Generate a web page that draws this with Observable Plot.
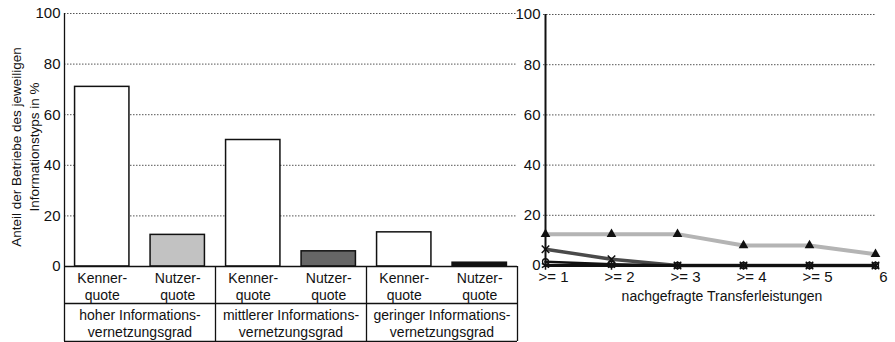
<!DOCTYPE html>
<html><head><meta charset="utf-8">
<script src="https://cdn.jsdelivr.net/npm/d3@7"></script>
<script src="https://cdn.jsdelivr.net/npm/@observablehq/plot@0.6"></script>
<style>
body{margin:0;background:#fff}
#wrap{position:relative;width:895px;height:342px;background:#fff}
#wrap svg{position:absolute;top:0;overflow:visible}
</style>
</head><body><div id="wrap"></div>
<script>
// ---- data: left chart ----
const groupLabels = ["hoher Informations-\nvernetzungsgrad", "mittlerer Informations-\nvernetzungsgrad", "geringer Informations-\nvernetzungsgrad"];
const quoteLabels = ["Kenner-\nquote", "Nutzer-\nquote"];
const kennerValues = [71, 50, 13.5];
const nutzerValues = [12.5, 6, 1.5];
const yTicks = [0, 20, 40, 60, 80, 100];
const yTitle = "Anteil der Betriebe des jeweiligen\nInformationstyps in %";
// ---- data: right chart ----
const transferLabels = [">= 1", ">= 2", ">= 3", ">= 4", ">= 5", "6"];
const seriesTriangle = [12.5, 12.5, 12.5, 8, 8, 4.5];
const seriesCross = [6.5, 2.5, 0, 0, 0, 0];
const seriesCircle = [1.5, 0.5, 0, 0, 0, 0];
const seriesPlus = [0, 0, 0, 0, 0, 0];
const xTitle = "nachgefragte Transferleistungen";

const font = "'Liberation Sans', Arial, Helvetica, sans-serif";
const wrap = document.getElementById("wrap");

// ---- left chart ----
const bars = [];
groupLabels.forEach((g, gi) => {
  [kennerValues[gi], nutzerValues[gi]].forEach((v, qi) =>
    bars.push({i: gi * 2 + qi, quote: quoteLabels[qi], value: v, key: qi === 0 ? "K" : "N" + gi}));
});
const groups = groupLabels.map((g, gi) => ({x: gi * 2 + 0.5, label: g}));
const dividers = [-0.5, 1.5, 3.5, 5.5];
const H = 342, mT = 13, mB = 76;
const px = (H - mT - mB) / 100;
const tableBottom = -(mB - 1) / px;

const left = Plot.plot({
  width: 517, height: H, marginLeft: 64, marginRight: 0, marginTop: mT, marginBottom: mB,
  style: {fontFamily: font, fontSize: "15px", color: "#111", background: "transparent", overflow: "visible"},
  x: {domain: [-0.5, 5.5], axis: null},
  y: {domain: [0, 100], ticks: yTicks, tickSize: 0, tickPadding: 4, label: null},
  color: {domain: ["K", "N0", "N1", "N2"], range: ["#ffffff", "#c2c2c2", "#666666", "#111111"]},
  marks: [
    Plot.ruleY(yTicks.filter(t => t > 0), {stroke: "#555", strokeDasharray: "1.5 1.5", strokeWidth: 1}),
    Plot.rect(bars, {x1: d => d.i - 0.36, x2: d => d.i + 0.36, y1: 0, y2: "value", fill: "key", stroke: "#111", strokeWidth: 1.5}),
    Plot.ruleY([0], {stroke: "#111", strokeWidth: 1.3}),
    Plot.ruleY([0], {stroke: "#111", strokeWidth: 1.3, dy: 37}),
    Plot.ruleY([0], {stroke: "#111", strokeWidth: 1.3, dy: 75}),
    Plot.ruleX(dividers, {y1: d => d === -0.5 ? 100 : 0, y2: tableBottom, stroke: "#111", strokeWidth: 1.3}),
    Plot.text(bars, {x: "i", y: 0, text: "quote", lineAnchor: "top", dy: 4, lineHeight: 1.22, fontSize: 14, fill: "#111"}),
    Plot.text(groups, {x: "x", y: 0, text: "label", lineAnchor: "top", dy: 41, lineHeight: 1.22, fontSize: 14, fill: "#111"}),
    Plot.text([yTitle], {text: d => d, frameAnchor: "left", textAnchor: "middle", rotate: -90, dx: -40, dy: 7, lineHeight: 1.3, fontSize: 13.5, fill: "#111"})
  ]
});
left.style.left = "0px";
wrap.appendChild(left);

// ---- right chart ----
const pts = vals => vals.map((v, i) => ({x: transferLabels[i], y: v}));
const right = Plot.plot({
  width: 378, height: H, marginLeft: 26, marginRight: 19, marginTop: 14, marginBottom: 77,
  style: {fontFamily: font, fontSize: "15px", color: "#111", background: "transparent", overflow: "visible"},
  x: {type: "point", domain: transferLabels, padding: 0, axis: null},
  y: {domain: [0, 100], ticks: yTicks, tickSize: 0, tickPadding: 3, label: null},
  marks: [
    Plot.ruleY(yTicks.filter(t => t > 0), {stroke: "#555", strokeDasharray: "1.5 1.5", strokeWidth: 1}),
    Plot.line(pts(seriesTriangle), {x: "x", y: "y", stroke: "#b4b4b4", strokeWidth: 4}),
    Plot.line(pts(seriesCross), {x: "x", y: "y", stroke: "#4a4a4a", strokeWidth: 3.5}),
    Plot.line(pts(seriesCircle), {x: "x", y: "y", stroke: "#111", strokeWidth: 2.5}),
    Plot.line(pts(seriesPlus), {x: "x", y: "y", stroke: "#111", strokeWidth: 3}),
    Plot.ruleX([transferLabels[0]], {stroke: "#111", strokeWidth: 2}),
    Plot.dot(pts(seriesTriangle), {x: "x", y: "y", symbol: "triangle", r: 3.6, fill: "#111"}),
    Plot.dot(pts(seriesCross), {x: "x", y: "y", symbol: "times", r: 3.5, stroke: "#111", strokeWidth: 1.5}),
    Plot.dot(pts(seriesCircle), {x: "x", y: "y", symbol: "circle", r: 3, stroke: "#111", strokeWidth: 1.3, fill: "none"}),
    Plot.dot(pts(seriesPlus), {x: "x", y: "y", symbol: "asterisk", r: 4, stroke: "#111", strokeWidth: 1.5}),
    Plot.text(transferLabels, {x: d => d, text: d => d, frameAnchor: "bottom", lineAnchor: "top", dy: 6, dx: 8, fontSize: 15, fill: "#111"}),
    Plot.text([xTitle], {text: d => d, frameAnchor: "bottom", lineAnchor: "middle", dy: 31, dx: 12, fontSize: 14, fill: "#111"})
  ]
});
right.style.left = "517px";
wrap.appendChild(right);
</script>
</body></html>
